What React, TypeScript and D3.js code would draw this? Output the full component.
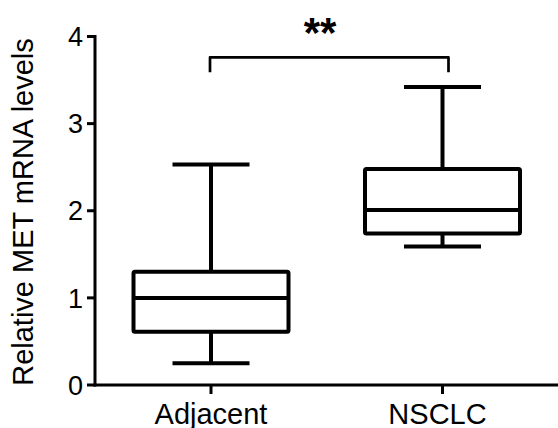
import React from "react";
import * as d3 from "d3";

const categories = ["Adjacent", "NSCLC"];
const whiskerLow = [0.25, 1.59];
const q1 = [0.61, 1.74];
const median = [1.0, 2.01];
const q3 = [1.3, 2.48];
const whiskerHigh = [2.53, 3.42];
const yTicks = [0, 1, 2, 3, 4];
const bracketTop = 3.76;
const bracketLeg = 3.59;
const sigLabel = "**";
const yTitle = "Relative MET mRNA levels";

const W = 558;
const H = 428;
const FONT = "'Liberation Sans', Arial, Helvetica, sans-serif";

export default function App() {
  const y = d3.scaleLinear().domain([0, 4]).range([385, 36.5]);
  const x = d3.scalePoint<string>().domain(categories).range([211, 442.5]);
  const axisX = 95;
  const boxHalf = 77.5;
  const capHalf = 38.5;
  const boxes = categories.map((c, i) => ({
    c,
    cx: x(c) as number,
    lo: whiskerLow[i],
    q1: q1[i],
    med: median[i],
    q3: q3[i],
    hi: whiskerHigh[i],
  }));
  const bx1 = x(categories[0]) as number;
  const bx2 = (x(categories[1]) as number) + 6;
  const bracketPath = d3.path();
  bracketPath.moveTo(bx1 - 1, y(bracketLeg));
  bracketPath.lineTo(bx1 - 1, y(bracketTop));
  bracketPath.lineTo(bx2, y(bracketTop));
  bracketPath.lineTo(bx2, y(bracketLeg));

  return (
    <svg
      width={W}
      height={H}
      style={{ position: "absolute", left: 0, top: 0, background: "#fff" }}
      fontFamily={FONT}
    >
      {/* y axis */}
      <line x1={axisX} x2={axisX} y1={y(4) - 1.5} y2={y(0) + 1.5} stroke="#000" strokeWidth={3} />
      {yTicks.map((t) => (
        <g key={t}>
          <line x1={axisX - 8} x2={axisX} y1={y(t)} y2={y(t)} stroke="#000" strokeWidth={3} />
          <text x={83} y={y(t)} dy="0.36em" textAnchor="end" fontSize={27}>
            {t}
          </text>
        </g>
      ))}
      {/* x axis */}
      <line x1={axisX - 1.5} x2={W} y1={y(0)} y2={y(0)} stroke="#000" strokeWidth={3} />
      {categories.map((c, i) => (
        <g key={c}>
          <line x1={x(c) as number} x2={x(c) as number} y1={y(0)} y2={y(0) + 9} stroke="#000" strokeWidth={3} />
          <text x={(x(c) as number) - (i === 1 ? 5 : 0)} y={424} textAnchor="middle" fontSize={29}>
            {c}
          </text>
        </g>
      ))}
      {/* y title */}
      <text
        transform={`translate(33,${212}) rotate(-90)`}
        textAnchor="middle"
        fontSize={29}
      >
        {yTitle}
      </text>
      {/* boxes */}
      {boxes.map((b) => (
        <g key={b.c} stroke="#000" strokeWidth={4} fill="none" strokeLinejoin="round">
          <line x1={b.cx} x2={b.cx} y1={y(b.hi)} y2={y(b.q3)} />
          <line x1={b.cx} x2={b.cx} y1={y(b.q1)} y2={y(b.lo)} />
          <line x1={b.cx - capHalf} x2={b.cx + capHalf} y1={y(b.hi)} y2={y(b.hi)} />
          <line x1={b.cx - capHalf} x2={b.cx + capHalf} y1={y(b.lo)} y2={y(b.lo)} />
          <rect x={b.cx - boxHalf} y={y(b.q3)} width={boxHalf * 2} height={y(b.q1) - y(b.q3)} rx={1.5} />
          <line x1={b.cx - boxHalf} x2={b.cx + boxHalf} y1={y(b.med)} y2={y(b.med)} />
        </g>
      ))}
      {/* significance bracket */}
      <path d={bracketPath.toString()} fill="none" stroke="#000" strokeWidth={2.7} strokeLinejoin="round" />
      <text x={320} y={47} textAnchor="middle" fontSize={42} fontWeight="bold">
        {sigLabel}
      </text>
    </svg>
  );
}
